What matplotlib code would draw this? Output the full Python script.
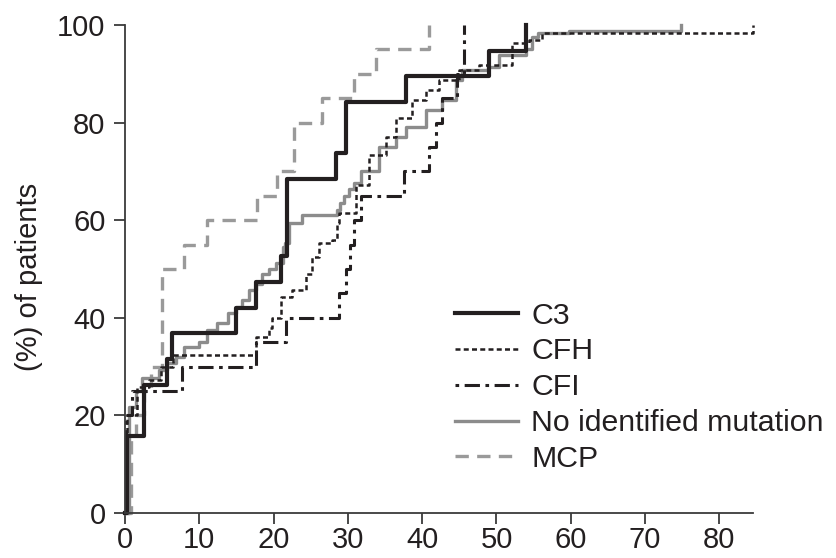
import matplotlib
matplotlib.use("Agg")
from matplotlib import pyplot as plt

plt.rcParams['font.family'] = ['Liberation Sans', 'DejaVu Sans']

# time (x) and cumulative % of patients (y) at each step
c3_t = [0, 0.3, 2.6, 5.7, 6.3, 14.9, 17.6, 21.0, 21.8, 28.4, 29.7, 37.8, 49.0, 54.0]
c3_y = [0, 15.8, 26.3, 31.6, 36.8, 42.1, 47.4, 52.6, 68.4, 73.7, 84.2, 89.5, 94.7, 100]

cfh_t = [0, 0.3, 1.6, 3.2, 4.9, 6.5, 17.6, 19.4, 19.8, 21.0, 22.5, 24.4, 25.2, 26.1, 27.9,
         28.5, 28.8, 31.1, 32.8, 35.1, 36.5, 38.6, 40.5, 42.3, 45.0, 47.6, 52.1, 54.4, 56.1, 84.5]
cfh_y = [0, 20, 25.8, 27.3, 30, 32.4, 36, 38, 40, 44.3, 45.7, 49, 52.5, 55.3, 56,
         59.4, 61.5, 67.2, 73.4, 77, 81, 84.6, 86.7, 88.7, 90.8, 91.8, 96.3, 97, 98.4, 100]

cfi_t = [0, 0.2, 1.0, 7.7, 17.6, 21.7, 28.8, 29.8, 30.3, 30.8, 31.8, 37.5, 40.9, 41.9, 42.7, 44.7, 45.6]
cfi_y = [0, 20, 25, 30, 35, 40, 45, 50, 55, 60, 65, 70, 75, 80, 85, 90, 100]

nim_t = [0, 0.5, 1.5, 2.3, 4.6, 5.7, 6.9, 8.0, 9.9, 11.1, 12.4, 13.9, 14.9, 15.7, 16.7, 17.6,
         18.4, 19.4, 20.3, 21.3, 21.6, 22.1, 23.8, 28.5, 29.0, 29.5, 30.1, 30.8, 31.7, 34.2,
         36.5, 37.8, 40.5, 42.7, 44.5, 45.4, 48.9, 50.3, 54.0, 54.8, 55.6, 59.8, 74.8]
nim_y = [0, 21.7, 25, 27.7, 29.3, 30.7, 32, 34, 35, 37.5, 39, 41, 42.2, 43.6, 45.7, 47,
         49, 50, 51.2, 54.5, 55.3, 59.4, 61, 62, 63.5, 65, 66.3, 67.6, 70, 75,
         77, 79, 82.6, 84.6, 88.7, 90.8, 91.4, 93.9, 95, 97.5, 98.4, 98.8, 100]

mcp_t = [0, 0.8, 1.5, 2.5, 3.5, 5.0, 7.9, 11.0, 17.8, 20.5, 22.7, 26.5, 30.8, 33.8, 40.9]
mcp_y = [0, 15, 20, 25, 30, 50, 55, 60, 65, 70, 80, 85, 90, 95, 100]

ink = '#231f20'
grey = '#8c8c8c'
lightgrey = '#9a9a9a'

fig = plt.figure(figsize=(8.36, 5.58), dpi=100)
ax = fig.add_axes([0.1495, 0.0806, 0.751, 0.8746])

ax.step(mcp_t, mcp_y, where='post', color=lightgrey, lw=2.4, ls=(0, (4, 2.5)), clip_on=False, label='MCP')
ax.step(nim_t, nim_y, where='post', color=grey, lw=2.4, clip_on=False, label='No identified mutation')
ax.step(cfh_t, cfh_y, where='post', color=ink, lw=1.8, ls=(0, (2, 1.3)), clip_on=False, label='CFH')
ax.step(cfi_t, cfi_y, where='post', color=ink, lw=2.2, ls=(0, (1.2, 1.8, 5, 1.8)), clip_on=False, label='CFI')
ax.step(c3_t, c3_y, where='post', color=ink, lw=3, clip_on=False, label='C3')

ax.set_xlim(0, 84.5)
ax.set_ylim(0, 100)
ax.set_xticks(range(0, 81, 10))
ax.set_yticks(range(0, 101, 20))

for s in ['top', 'right']:
    ax.spines[s].set_visible(False)
for s in ['left', 'bottom']:
    ax.spines[s].set_color('#3a3a3a')
    ax.spines[s].set_linewidth(1.3)
ax.tick_params(direction='out', length=8, width=1.3, color='#3a3a3a',
               labelsize=21, labelcolor=ink)
ax.tick_params(axis='y', pad=6)
ax.tick_params(axis='x', pad=1.5)

ax.set_ylabel('(%) of patients', fontsize=21, color=ink)
ax.yaxis.set_label_coords(-0.13, 0.484)

h, l = ax.get_legend_handles_labels()
order = ['C3', 'CFH', 'CFI', 'No identified mutation', 'MCP']
hs = [h[l.index(o)] for o in order]
ax.legend(hs, order, loc='center left', bbox_to_anchor=(0.544, 0.306),
          bbox_transform=fig.transFigure, frameon=False, fontsize=21.8,
          handlelength=2.1, handletextpad=0.43, labelspacing=0.26,
          borderpad=0, borderaxespad=0, labelcolor=ink)

fig.savefig('out.png', dpi=100)
